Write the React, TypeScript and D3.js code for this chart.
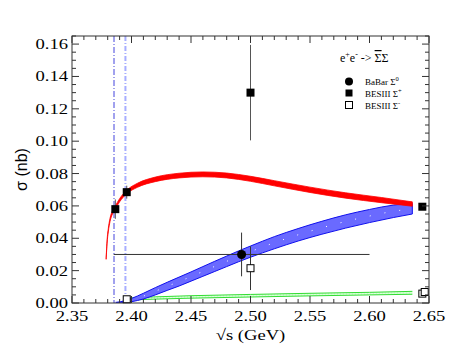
import React from 'react';
import * as d3 from 'd3';

// threshold lines (GeV)
const thresholdDashDot = 2.3853;
const thresholdDashed = 2.3949;

// model bands: [sqrt(s), lower, upper] in nb
const redBand: [number, number, number][] = [
  [2.3787, 0.027, 0.028],
  [2.3795, 0.037, 0.039],
  [2.3805, 0.044, 0.046],
  [2.382, 0.0505, 0.0525],
  [2.384, 0.055, 0.057],
  [2.386, 0.0575, 0.0595],
  [2.39, 0.0625, 0.0645],
  [2.396, 0.0675, 0.0697],
  [2.405, 0.0715, 0.074],
  [2.42, 0.075, 0.0778],
  [2.44, 0.0773, 0.0802],
  [2.46, 0.078, 0.081],
  [2.48, 0.0773, 0.0803],
  [2.5, 0.0752, 0.0783],
  [2.52, 0.0724, 0.0756],
  [2.55, 0.0683, 0.0716],
  [2.58, 0.0648, 0.0681],
  [2.61, 0.062, 0.0652],
  [2.636, 0.0598, 0.0625],
];

const blueBand: [number, number, number][] = [
  [2.386, 0.0, 0.0003],
  [2.395, 0.0003, 0.0015],
  [2.4, 0.0008, 0.0028],
  [2.41, 0.0025, 0.006],
  [2.42, 0.005, 0.0095],
  [2.43, 0.0078, 0.0128],
  [2.44, 0.0105, 0.016],
  [2.45, 0.0135, 0.0192],
  [2.46, 0.0165, 0.0225],
  [2.47, 0.0195, 0.0258],
  [2.48, 0.0225, 0.029],
  [2.49, 0.0255, 0.0322],
  [2.5, 0.0283, 0.0352],
  [2.52, 0.0335, 0.041],
  [2.54, 0.0383, 0.046],
  [2.56, 0.0425, 0.0505],
  [2.58, 0.0463, 0.0545],
  [2.6, 0.0497, 0.0578],
  [2.62, 0.0528, 0.0605],
  [2.636, 0.055, 0.0615],
];

const greenBand: [number, number, number][] = [
  [2.395, 0.0018, 0.003],
  [2.42, 0.0024, 0.0038],
  [2.45, 0.003, 0.0045],
  [2.5, 0.0037, 0.0053],
  [2.55, 0.0044, 0.006],
  [2.6, 0.005, 0.0066],
  [2.636, 0.0054, 0.0072],
];

// data points
const babarSigma0 = [{ x: 2.4925, y: 0.03, xlo: 2.385, xhi: 2.6, ylo: 0.0165, yhi: 0.0435 }];
const besSigmaPlus = [
  { x: 2.3864, y: 0.058, err: 0.006 },
  { x: 2.396, y: 0.0685, err: 0.004 },
  { x: 2.5, y: 0.13, err: 0.0295 },
  { x: 2.6444, y: 0.0595, err: 0.002 },
];
const besSigmaMinus = [
  { x: 2.396, y: 0.0023, err: 0.0005 },
  { x: 2.5, y: 0.0215, err: 0.0135 },
  { x: 2.6444, y: 0.0058, err: 0.001 },
  { x: 2.6464, y: 0.0068, err: 0.001 },
];

const xMajor = [2.35, 2.4, 2.45, 2.5, 2.55, 2.6, 2.65];
const yMajor = [0, 0.02, 0.04, 0.06, 0.08, 0.1, 0.12, 0.14, 0.16];

const W = 463;
const H = 358;
const m = { left: 72, top: 36, right: 429, bottom: 303 };

const App = () => {
  const x = d3.scaleLinear().domain([2.35, 2.65]).range([m.left, m.right]);
  const y = d3.scaleLinear().domain([0, 0.165]).range([m.bottom, m.top]);

  const area = d3
    .area<[number, number, number]>()
    .x((d) => x(d[0]))
    .y0((d) => y(d[1]))
    .y1((d) => y(d[2]))
    .curve(d3.curveMonotoneX);
  const lo = d3.line<[number, number, number]>().x((d) => x(d[0])).y((d) => y(d[1])).curve(d3.curveMonotoneX);
  const hi = d3.line<[number, number, number]>().x((d) => x(d[0])).y((d) => y(d[2])).curve(d3.curveMonotoneX);
  const mid = d3
    .line<[number, number, number]>()
    .x((d) => x(d[0]))
    .y((d) => y((d[1] + d[2]) / 2))
    .curve(d3.curveMonotoneX);

  const xMinor = d3.range(0, 31).map((i) => 2.35 + i * 0.01);
  const yMinor = d3.range(0, 34).map((i) => i * 0.005);
  const axisCol = '#333';
  const ser = "'Liberation Serif', 'Times New Roman', Times, serif";
  const sans = "'Liberation Sans', Arial, Helvetica, sans-serif";
  // the original lettering is a little wider than Times
  const stretch = 1.2;

  return (
    <svg width={W} height={H} style={{ position: 'absolute', left: 0, top: 0, background: '#fff' }}>
      <defs>
        <clipPath id="plotArea">
          <rect x={m.left} y={m.top} width={m.right - m.left} height={m.bottom - m.top} />
        </clipPath>
      </defs>

      {/* threshold lines */}
      <line x1={x(thresholdDashDot)} x2={x(thresholdDashDot)} y1={m.top} y2={m.bottom}
        stroke="#4444dd" strokeWidth={1} strokeDasharray="6,2,1,2" />
      <line x1={x(thresholdDashed)} x2={x(thresholdDashed)} y1={m.top} y2={m.bottom}
        stroke="#a8aeff" strokeWidth={2} strokeDasharray="5,2,1,2" />

      <g clipPath="url(#plotArea)">
        {/* green band */}
        <path d={area(greenBand) ?? ''} fill="#c8ffc8" />
        <path d={lo(greenBand) ?? ''} fill="none" stroke="#33dd33" strokeWidth={1} />
        <path d={hi(greenBand) ?? ''} fill="none" stroke="#33dd33" strokeWidth={1} />
        <path d={mid(greenBand) ?? ''} fill="none" stroke="#fff" strokeWidth={0.8} strokeDasharray="1,2" />

        {/* blue band */}
        <path d={area(blueBand) ?? ''} fill="#6a6aff" />
        <path d={lo(blueBand) ?? ''} fill="none" stroke="#1010ee" strokeWidth={1} />
        <path d={hi(blueBand) ?? ''} fill="none" stroke="#1010ee" strokeWidth={1} />
        <path d={mid(blueBand) ?? ''} fill="none" stroke="#fff" strokeWidth={1} strokeDasharray="1,14" />
        <line x1={x(blueBand[blueBand.length - 1][0])} x2={x(blueBand[blueBand.length - 1][0])}
          y1={y(blueBand[blueBand.length - 1][1])} y2={y(blueBand[blueBand.length - 1][2])} stroke="#1010ee" />

        {/* red band */}
        <path d={area(redBand) ?? ''} fill="#ff0000" stroke="#ff0000" strokeWidth={0.8} />
      </g>

      {/* BaBar Sigma0 */}
      {babarSigma0.map((d, i) => (
        <g key={'b' + i}>
          <line x1={x(d.xlo)} x2={x(d.xhi)} y1={y(d.y)} y2={y(d.y)} stroke="#333" />
          <line x1={x(d.x)} x2={x(d.x)} y1={y(d.ylo)} y2={y(d.yhi)} stroke="#333" />
          <circle cx={x(d.x)} cy={y(d.y)} r={4.5} fill="#000" />
        </g>
      ))}

      {/* BESIII Sigma- (open) */}
      {besSigmaMinus.map((d, i) => (
        <g key={'m' + i}>
          <line x1={x(d.x)} x2={x(d.x)} y1={y(d.y - d.err)} y2={y(d.y + d.err)} stroke="#333" />
          <rect x={x(d.x) - 3.5} y={y(d.y) - 3.5} width={7} height={7} fill="#fff" stroke="#000" strokeWidth={1} />
        </g>
      ))}

      {/* BESIII Sigma+ (filled) */}
      {besSigmaPlus.map((d, i) => (
        <g key={'p' + i}>
          <line x1={x(d.x)} x2={x(d.x)} y1={y(d.y - d.err)} y2={y(d.y + d.err)} stroke="#555" />
          <rect x={x(d.x) - 4} y={y(d.y) - 4} width={8} height={8} fill="#000" />
        </g>
      ))}

      {/* frame */}
      <rect x={m.left} y={m.top} width={m.right - m.left} height={m.bottom - m.top} fill="none" stroke={axisCol} strokeWidth={1} />

      {/* x ticks */}
      {xMinor.map((v, i) => {
        const major = i % 5 === 0;
        const len = major ? 7 : 4;
        return (
          <g key={'xt' + i} stroke={axisCol}>
            <line x1={x(v)} x2={x(v)} y1={m.bottom} y2={m.bottom - len} />
            <line x1={x(v)} x2={x(v)} y1={m.top} y2={m.top + len} />
          </g>
        );
      })}
      {/* y ticks */}
      {yMinor.map((v, i) => {
        const major = i % 4 === 0;
        const len = major ? 7 : 4;
        return (
          <g key={'yt' + i} stroke={axisCol}>
            <line x1={m.left} x2={m.left + len} y1={y(v)} y2={y(v)} />
            <line x1={m.right} x2={m.right - len} y1={y(v)} y2={y(v)} />
          </g>
        );
      })}

      {/* tick labels */}
      <g style={{ fontFamily: ser }} fontSize={15.5} fill="#000">
        {xMajor.map((v) => (
          <text key={'xl' + v} transform={`translate(${x(v)},${m.bottom + 18}) scale(${stretch},1)`} textAnchor="middle">
            {v.toFixed(2)}
          </text>
        ))}
        {yMajor.map((v) => (
          <text key={'yl' + v} transform={`translate(${m.left - 4},${y(v) + 5}) scale(${stretch},1)`} textAnchor="end">
            {v.toFixed(2)}
          </text>
        ))}
        {/* x axis title */}
        <text transform={`translate(${x(2.5)},340) scale(${stretch},1)`} textAnchor="middle">
          √s (GeV)
        </text>
      </g>

      <text transform={`translate(27,${(m.top + m.bottom) / 2}) rotate(-90)`} textAnchor="middle"
        style={{ fontFamily: sans }} fontSize={16} fill="#000">
        σ (nb)
      </text>

      {/* legend */}
      <g style={{ fontFamily: ser }} fill="#000">
        <text x={340} y={62} fontSize={12}>
          e<tspan dy={-5} fontSize={8}>+</tspan>
          <tspan dy={5}>e</tspan>
          <tspan dy={-5} fontSize={8}>-</tspan>
          <tspan dy={5}> -&gt; </tspan>
          <tspan style={{ textDecoration: 'overline' }}>Σ</tspan>Σ
        </text>
        <circle cx={349} cy={81.5} r={4} fill="#000" />
        <text x={365} y={85} fontSize={9}>
          BaBar Σ<tspan dy={-4} fontSize={6.5}>0</tspan>
        </text>
        <rect x={345.5} y={89.5} width={7} height={7} fill="#000" />
        <text x={365} y={97} fontSize={9}>
          BESIII Σ<tspan dy={-4} fontSize={6.5}>+</tspan>
        </text>
        <rect x={345.5} y={101.5} width={7} height={7} fill="#fff" stroke="#000" />
        <text x={365} y={109} fontSize={9}>
          BESIII Σ<tspan dy={-4} fontSize={6.5}>-</tspan>
        </text>
      </g>
    </svg>
  );
};

export default App;
